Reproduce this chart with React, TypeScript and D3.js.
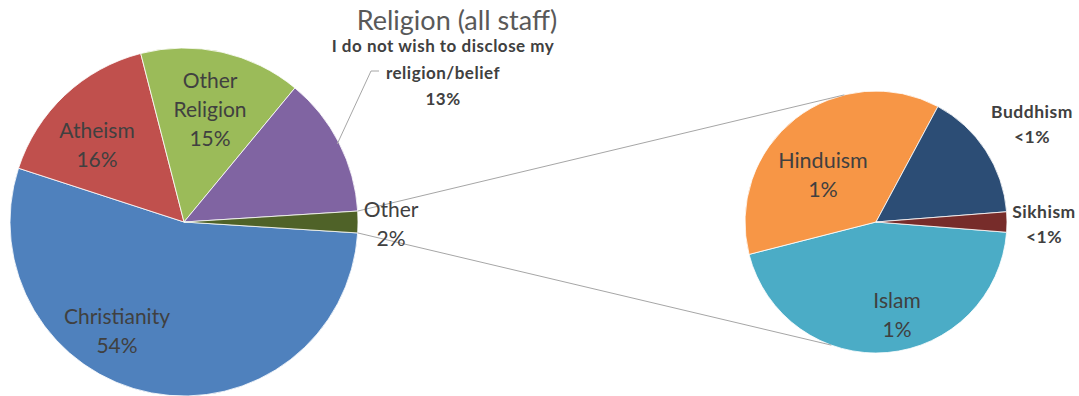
import React from 'react';
import * as d3 from 'd3';

// ---- data ----
const mainCategories = ['Christianity', 'Atheism', 'Other Religion', 'I do not wish to disclose my religion/belief', 'Other'];
const mainValues = [54, 16, 15, 13, 2];
const mainLabelLines = [
  ['Christianity', '54%'],
  ['Atheism', '16%'],
  ['Other', 'Religion', '15%'],
  ['I do not wish to disclose my', 'religion/belief', '13%'],
  ['Other', '2%'],
];
const mainColors = ['#4F81BD', '#C0504D', '#9BBB59', '#8064A2', '#4F6228'];

const subCategories = ['Islam', 'Hinduism', 'Buddhism', 'Sikhism'];
const subValues = [0.9, 0.74, 0.32, 0.05];
const subLabelLines = [
  ['Islam', '1%'],
  ['Hinduism', '1%'],
  ['Buddhism', '<1%'],
  ['Sikhism', '<1%'],
];
const subColors = ['#4BACC6', '#F79646', '#2C4D75', '#772C2A'];

const title = 'Religion (all staff)';

// ---- layout ----
const W = 1079;
const H = 396;
const mainC = { x: 184, y: 222, r: 174 };
const subC = { x: 876, y: 222, r: 131 };
const FONT = 'Lato, "Open Sans", sans-serif';

type LabelStyle = { x: number; y: number; size: number; lh: number; bold?: boolean; ls?: number };
const mainLabelStyle: LabelStyle[] = [
  { x: 117, y: 331, size: 21, lh: 28.5 },
  { x: 97, y: 145, size: 21, lh: 28.5 },
  { x: 210, y: 110, size: 21, lh: 29 },
  { x: 443, y: 73, size: 17, lh: 26.5, bold: true, ls: 0.5 },
  { x: 391, y: 224, size: 21, lh: 29 },
];
const subLabelStyle: LabelStyle[] = [
  { x: 897, y: 315, size: 21, lh: 28.5 },
  { x: 823, y: 175, size: 21.5, lh: 28.5 },
  { x: 1032, y: 124, size: 17.5, lh: 25, bold: true, ls: 0.5 },
  { x: 1044, y: 224, size: 17.5, lh: 25, bold: true, ls: 0.5 },
];
// connector end angles on the secondary pie (d3 convention, degrees from 12 o'clock)
const subConnectAngles = [-14, 200];
// leader elbow for the undisclosed label
const leaderElbow = { x: 371, y: 71, end: 379 };

const deg = Math.PI / 180;
const pt = (c: { x: number; y: number }, r: number, a: number) => ({
  x: c.x + r * Math.sin(a),
  y: c.y - r * Math.cos(a),
});

function Label({ lines, s }: { lines: string[]; s: LabelStyle }) {
  const n = lines.length;
  return (
    <text
      textAnchor="middle"
      fontFamily={FONT}
      fontSize={s.size}
      fontWeight={s.bold ? 700 : 400}
      letterSpacing={s.ls || 0}
      fill="#404040"
    >
      {lines.map((l, i) => (
        <tspan key={i} x={s.x} y={s.y + (i - (n - 1) / 2) * s.lh} dy="0.35em">
          {l}
        </tspan>
      ))}
    </text>
  );
}

export default function App() {
  const mainTotal = d3.sum(mainValues);
  const mainStart = Math.PI / 2 + (mainValues[mainValues.length - 1] / mainTotal) * Math.PI;
  const mainPie = d3
    .pie<number>()
    .sort(null)
    .startAngle(mainStart)
    .endAngle(mainStart + 2 * Math.PI)(mainValues);

  const subTotal = d3.sum(subValues);
  const subStart = Math.PI / 2 + (subValues[subValues.length - 1] / subTotal) * Math.PI;
  const subPie = d3
    .pie<number>()
    .sort(null)
    .startAngle(subStart)
    .endAngle(subStart + 2 * Math.PI)(subValues);

  const mainArc = d3.arc<d3.PieArcDatum<number>>().innerRadius(0).outerRadius(mainC.r);
  const subArc = d3.arc<d3.PieArcDatum<number>>().innerRadius(0).outerRadius(subC.r);

  const other = mainPie[mainPie.length - 1];
  const p1 = pt(mainC, mainC.r, other.startAngle);
  const p2 = pt(mainC, mainC.r, other.endAngle);
  const q1 = pt(subC, subC.r, subConnectAngles[0] * deg);
  const q2 = pt(subC, subC.r, subConnectAngles[1] * deg);

  const undisclosed = mainPie[3];
  const mid = (undisclosed.startAngle + undisclosed.endAngle) / 2;
  const l0 = pt(mainC, mainC.r - 2, mid);

  return (
    <svg
      width={W}
      height={H}
      style={{ position: 'absolute', left: 0, top: 0, background: '#fff' }}
    >
      <g transform={`translate(${mainC.x},${mainC.y})`}>
        {mainPie.map((d, i) => (
          <path key={mainCategories[i]} d={mainArc(d) || ''} fill={mainColors[i]} stroke="#fff" strokeWidth={0.8} />
        ))}
      </g>
      <g transform={`translate(${subC.x},${subC.y})`}>
        {subPie.map((d, i) => (
          <path key={subCategories[i]} d={subArc(d) || ''} fill={subColors[i]} stroke="#fff" strokeWidth={0.8} />
        ))}
      </g>
      <line x1={p1.x} y1={p1.y} x2={q1.x} y2={q1.y} stroke="#a6a6a6" strokeWidth={1} />
      <line x1={p2.x} y1={p2.y} x2={q2.x} y2={q2.y} stroke="#a6a6a6" strokeWidth={1} />
      <polyline
        points={`${l0.x},${l0.y} ${leaderElbow.x},${leaderElbow.y} ${leaderElbow.end},${leaderElbow.y}`}
        fill="none"
        stroke="#a6a6a6"
        strokeWidth={1}
      />
      <text x={457} y={21} dy="0.35em" textAnchor="middle" fontFamily={FONT} fontSize={27} fill="#595959">
        {title}
      </text>
      {mainLabelLines.map((lines, i) => (
        <Label key={i} lines={lines} s={mainLabelStyle[i]} />
      ))}
      {subLabelLines.map((lines, i) => (
        <Label key={i} lines={lines} s={subLabelStyle[i]} />
      ))}
    </svg>
  );
}
